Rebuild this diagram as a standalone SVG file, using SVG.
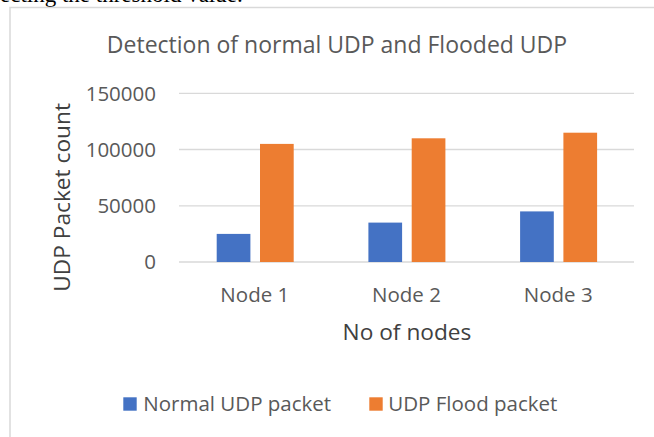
<svg xmlns="http://www.w3.org/2000/svg" width="654" height="437" viewBox="0 0 654 437">
<style>
.t{font-family:"Open Sans","DejaVu Sans",sans-serif;fill:#595959}
.grid{stroke:#d9d9d9;stroke-width:1.3}
.blue{fill:#4472c4}
.orange{fill:#ed7d31}
</style>
<rect x="0" y="0" width="654" height="437" fill="#ffffff"/>
<text x="0" y="2" font-family="'Liberation Serif',serif" font-size="23" fill="#000">ecting the threshold value.</text>
<path d="M10 437V7.5H654" fill="none" stroke="#d9d9d9" stroke-width="1.5"/>
<text class="t" x="337" y="53.3" font-size="23" text-anchor="middle">Detection of normal UDP and Flooded UDP</text>
<g id="gridlines">
<line class="grid" x1="179" y1="93.3" x2="634" y2="93.3"/>
<line class="grid" x1="179" y1="149.5" x2="634" y2="149.5"/>
<line class="grid" x1="179" y1="205.8" x2="634" y2="205.8"/>
<line class="grid" x1="179" y1="262" x2="634" y2="262"/>
</g>
<g id="yticks" class="t" font-size="20.5" text-anchor="end">
<text class="t" x="156" y="100.6">150000</text>
<text class="t" x="156" y="156.8">100000</text>
<text class="t" x="156" y="213.1">50000</text>
<text class="t" x="156" y="269.3">0</text>
</g>
<g id="node1">
<rect class="blue" x="216.7" y="233.9" width="33.7" height="28.1"/>
<rect class="orange" x="260" y="143.9" width="33.7" height="118.1"/>
<text class="t" x="254.8" y="301.7" font-size="20.5" text-anchor="middle">Node 1</text>
</g>
<g id="node2">
<rect class="blue" x="368.4" y="222.6" width="33.7" height="39.4"/>
<rect class="orange" x="411.7" y="138.3" width="33.7" height="123.7"/>
<text class="t" x="406.5" y="301.7" font-size="20.5" text-anchor="middle">Node 2</text>
</g>
<g id="node3">
<rect class="blue" x="520.1" y="211.4" width="33.7" height="50.6"/>
<rect class="orange" x="563.4" y="132.7" width="33.7" height="129.3"/>
<text class="t" x="558.2" y="301.7" font-size="20.5" text-anchor="middle">Node 3</text>
</g>
<text x="407" y="340" font-family="'Open Sans','DejaVu Sans',sans-serif" font-size="22.7" fill="#404040" text-anchor="middle">No of nodes</text>
<text transform="translate(70 197.4) rotate(-90)" font-family="'Open Sans','DejaVu Sans',sans-serif" font-size="22.7" fill="#404040" text-anchor="middle">UDP Packet count</text>
<g id="legend">
<rect class="blue" x="123.3" y="397.3" width="13.4" height="13.4"/>
<text class="t" x="143.3" y="410.5" font-size="20.5">Normal UDP packet</text>
<rect class="orange" x="369.3" y="397.3" width="13.4" height="13.4"/>
<text class="t" x="388.3" y="410.5" font-size="20.5">UDP Flood packet</text>
</g>
</svg>
